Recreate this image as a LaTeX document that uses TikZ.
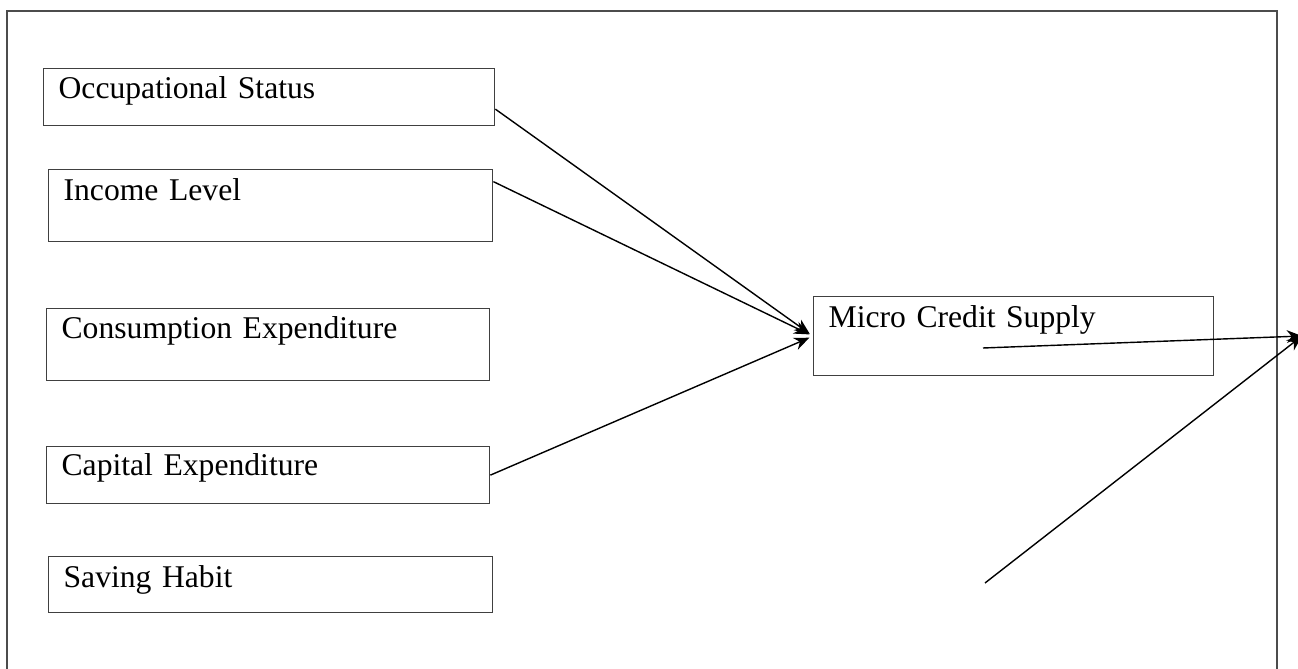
\documentclass[tikz,border=0pt]{standalone}
\usepackage{fontspec}
\setmainfont{Liberation Serif}
\usepackage{tikz}
\usetikzlibrary{arrows.meta}

\begin{document}
\begin{tikzpicture}[x=0.025cm, y=-0.025cm,
		box_style/.style={rectangle,draw=black!75,line width=0.9pt,anchor=north west,
			inner xsep=0.375cm,inner ysep=0pt,align=left,font=\fontsize{22.5}{27}\selectfont},
		edge_style/.style={draw=black,line width=1pt,-{Stealth[length=0.38cm,width=0.32cm]}},
		frame_style/.style={draw=black!70,line width=1pt}]
		
		\useasboundingbox (0,0) rectangle (1298,669);
		\draw[frame_style] (7,669) -- (7,11) -- (1277,11) -- (1277,669);
		
		\node[box_style,text width=10.525cm,text height=0.75cm,text depth=0.675cm] (n0) at (43,68) {Occupational Status};
		\node[box_style,text width=10.35cm,text height=0.775cm,text depth=1.025cm] (n1) at (48,169) {Income Level};
		\node[box_style,text width=10.325cm,text height=0.75cm,text depth=1.05cm] (n2) at (46,308) {Consumption Expenditure};
		\node[box_style,text width=10.325cm,text height=0.725cm,text depth=0.7cm] (n3) at (46,446) {Capital Expenditure};
		\node[box_style,text width=10.35cm,text height=0.775cm,text depth=0.625cm] (n4) at (48,556) {Saving Habit};
		\node[box_style,text width=9.25cm,text height=0.775cm,text depth=1.2cm] (n5) at (813,296) {Micro Credit Supply};
		
		\coordinate (n5_o) at (983,348);
		\coordinate (n6_o) at (985,583);
		\coordinate (out) at (1302,336);
		
		\draw[edge_style,shorten >=0.1cm] ([yshift=-0.3cm]n0.east) -- (n5.west);
		\draw[edge_style,shorten >=0.1cm] ([yshift=0.6cm]n1.east) -- (n5.west);
		\draw[edge_style,shorten >=0.1cm] (n3.east) -- (n5.west);
		\draw[edge_style] (n5_o) -- (out);
		\draw[edge_style] (n6_o) -- (out);
		
\end{tikzpicture}
\end{document}
